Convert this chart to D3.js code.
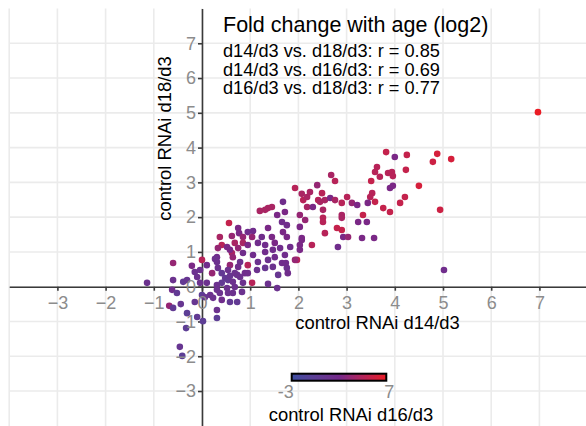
<!DOCTYPE html>
<html><head><meta http-equiv="Content-Type" content="text/html; charset=UTF-8">
<script src="https://d3js.org/d3.v7.min.js"></script>
<style>
  body { margin: 0; background: #fff; }
  text { font-family: "Liberation Sans", Arial, sans-serif; }
</style>
</head>
<body>
<script type="text/javascript">
"use strict";
// log2 fold change for each gene
// x = d14/d3, y = d18/d3, colour = d16/d3
const d14 = [
  0.56, 0.37, 0.62, 0.75, 0.77, 0.85, 0.85, 0.68, 0.41, 0.33, 0.52, 0.62, 0.64, 0.31, 0.27, 0.95,
  -0.60, -0.21, 0.00, 0.10, 0.31, 0.33, 0.21, -0.15, -0.04, 0.41, 0.48, 0.54, 0.41, 0.58, 0.68, 0.64,
  -1.14, -0.60, -0.39, -0.31, -0.04, 0.10, 0.31, 0.31, 0.52, 0.54, 0.64, -0.62, -0.52, 0.00, 0.17, 0.23,
  0.41, 0.58, 0.73, -0.15, -0.68, -0.60, -0.44, 0.31, -0.31, -0.10, 0.02, 0.31, -0.33, -0.46, -0.41,
  0.58, 0.79, 0.79, 0.89, 0.85, 0.68, 0.83, 0.37, 0.06, -0.10,
  1.45, 1.37, 1.31, 1.20, 1.68, 1.72, 1.06, 1.04, 1.24, 1.37, 1.45, 1.66, 1.68, 1.76, 1.51, 1.31,
  1.16, 0.95, 0.75, 0.58, 0.85, 1.06, 1.31, 1.47, 1.62, 1.83, 2.07, 2.28, 2.03, 1.72, 1.51, 1.37,
  1.16, 0.95, 0.75, 0.54, 0.73, 0.95, 1.14, 1.31, 1.47, 1.66, 1.76, 1.58, 1.97, 1.37, 1.56, 1.04,
  1.56, 1.76, 1.78, 1.74,
  1.93, 2.07, 2.10, 2.18, 2.24, 2.39, 2.49, 2.55, 2.66, 2.76, 2.68, 2.76, 2.03, 2.14, 2.03, 1.93,
  2.07, 2.03, 2.18, 2.30, 2.51, 2.51, 2.80, 2.55, 2.82, 3.82, 4.00, 4.25, 3.63, 3.59, 3.86, 3.94,
  3.96, 4.23, 3.69, 3.51, 3.90, 3.96, 4.21, 4.11, 3.53, 3.49, 3.59, 3.44, 3.11, 3.22, 3.01, 2.90,
  2.41, 2.45, 2.51, 2.90, 2.90, 3.34, 3.24, 3.42, 2.90, 2.93, 3.03, 3.32, 3.57, 3.76, 3.90,
  6.97, 4.88, 4.79, 5.17, 4.50, 4.94, 5.02
];
const d18 = [
  1.83, 1.43, 1.46, 1.69, 1.54, 1.43, 1.26, 1.26, 1.20, 1.11, 1.14, 0.97, 0.85, 0.85, 0.80, 1.57,
  0.68, 0.60, 0.77, 0.62, 0.71, 0.54, 0.39, 0.42, 0.48, 0.39, 0.25, 0.19, 0.11, 0.31, 0.39, 0.14,
  0.11, 0.19, 0.14, 0.19, 0.11, 0.11, 0.05, -0.09, -0.04, -0.18, -0.18, -0.09, -0.18, -0.24, -0.24, -0.32,
  -0.38, -0.44, -0.44, -0.44, -0.55, -0.61, -0.50, -0.67, -0.76, -0.87, -0.99, -0.90, -1.19, -1.73, -1.99,
  0.62, 0.71, 0.28, 0.39, 0.11, -0.01, -0.15, -0.18, -0.30, 0.28,
  2.29, 2.26, 2.21, 2.18, 2.44, 2.15, 1.60, 1.43, 1.43, 1.69, 1.43, 1.86, 1.57, 1.43, 1.26, 1.20,
  1.26, 1.20, 1.11, 1.06, 0.97, 0.91, 1.00, 1.06, 1.11, 1.14, 1.34, 1.20, 1.06, 0.91, 0.85, 0.77,
  0.71, 0.62, 0.57, 0.48, 0.34, 0.39, 0.48, 0.54, 0.57, 0.68, 0.54, 0.34, 0.77, 0.08, -0.04, 0.11,
  2.06, 1.77, 0.39, 0.68,
  2.84, 2.67, 2.49, 2.58, 2.72, 2.92, 2.69, 2.49, 2.55, 2.49, 3.21, 3.04, 2.06, 1.92, 1.72, 0.77,
  1.40, 1.20, 2.29, 2.29, 1.98, 2.21, 1.69, 1.54, 1.14, 3.87, 3.73, 3.79, 3.44, 3.30, 3.27, 3.30,
  3.18, 3.36, 3.16, 3.04, 2.84, 2.90, 2.58, 2.41, 2.69, 2.58, 2.44, 2.41, 2.41, 2.35, 2.58, 2.41,
  2.49, 2.44, 1.86, 2.06, 1.98, 2.06, 1.86, 1.86, 1.63, 1.43, 1.43, 1.40, 1.40, 2.26, 2.15,
  5.02, 3.82, 3.59, 3.67, 2.90, 2.21, 0.48
];
const d16 = [
  5.2, 4, 3.2, 2.2, 2.2, 3.2, 4, 4, 4.6, 3.2, 2.2, 4, 3.2, 1.5, 1, 1.5,
  3.2, 2.2, 4.6, 1.5, 1, 1, 3.2, 1, 1, 0, 0, 0, 0, 0.5, 1, 1,
  1, 1, 0, 0.5, 1, 1, 1, 1, 1, 1, 1, 1.5, 0, -0.5, 1, 1,
  1.5, 0, 0, 0.5, 3.2, 0, 0.5, 1, -0.5, 0, -0.5, -0.5, -0.5, 0.5, -0.5,
  3.2, 1, 1, 1.5, 1, 1, 1, 1, 0.5, 1,
  4, 4, 4, 4, 1.5, 2.2, 1.5, 3.2, 1.5, 2.2, 2.2, 1.5, 2.2, 2.2, 2.2, 1.5,
  1.5, 2.2, 3.2, 2.2, 1.5, 1.5, 1.5, 1.5, 1.5, 1.5, 2.2, 4.6, 2.2, 1.5, 1.5, 1,
  1, 4.6, 1.5, 1, 1, 1.5, 1, 0.5, 1, 1.5, 1, 0.5, 4.6, 1, 1, 4.6,
  2.2, 1.5, 1.5, 1.5,
  4.6, 4, 4.6, 4, 4, 3.2, 4.6, 4, 2.2, 4, 4, 4.6, 3.2, 3.2, 2.2, 3.2,
  2.2, 2.2, 4, 2.2, 4.6, 4, 5.2, 4.6, 1.5, 5.2, 2.2, 5.2, 4.6, 4.6, 4.6, 4.6,
  4.6, 5.2, 4.6, 5.2, 2.2, 2.2, 5.2, 5.2, 4.6, 4.6, 5.2, 2.2, 3.2, 2.2, 4.6, 4.6,
  4.6, 4, 4.6, 4, 4, 5.2, 2.2, 2.2, 5.2, 2.2, 3.2, 2.2, 2.2, 5.2, 5.2,
  7, 6, 5.6, 6, 6, 5.6, 1.5
];
const xTicks = [-3, -2, -1, 0, 1, 2, 3, 4, 5, 6, 7];
const yTicks = [-3, -2, -1, 0, 1, 2, 3, 4, 5, 6, 7];
const gridX = [-4, -3, -2, -1, 0, 1, 2, 3, 4, 5, 6, 7];
const gridY = [-3, -2, -1, 0, 1, 2, 3, 4, 5, 6, 7];
const legendTicks = [-3, 7];
const titleText = "Fold change with age (log2)";
const statLines = [
  "d14/d3 vs. d18/d3: r = 0.85",
  "d14/d3 vs. d16/d3: r = 0.69",
  "d16/d3 vs. d18/d3: r = 0.77"
];

let width = 586, height = 426;
let points = d14.map((v, i) => ({x: v, y: d18[i], c: d16[i]}));

let x = d3.scaleLinear().domain([-4, 8]).range([9.2, 587.6]);
let y = d3.scaleLinear().domain([-4, 8]).range([425.8, 8.5]);
let colour = d3.scaleLinear()
    .domain([-3, 2, 7])
    .range(["#3c4da0", "#74288a", "#ea1b24"])
    .interpolate(d3.interpolateLab);

let svg = d3.select("body").append("svg")
    .attr("width", width)
    .attr("height", height);

// panel grid
let grid = svg.append("g").attr("stroke", "#ebebeb").attr("stroke-width", 1.6);
grid.selectAll(".gx").data(gridX).enter().append("line")
    .attr("x1", d => x(d)).attr("x2", d => x(d))
    .attr("y1", y(8)).attr("y2", height);
grid.selectAll(".gy").data(gridY).enter().append("line")
    .attr("x1", x(-4)).attr("x2", width)
    .attr("y1", d => y(d)).attr("y2", d => y(d));

// axes through the origin: lines first, labels after the points
function xAxis() {
  return d3.axisBottom(x).tickValues(xTicks).tickSize(4).tickSizeOuter(0).tickPadding(5.5);
}
function yAxis() {
  return d3.axisLeft(y).tickValues(yTicks).tickSize(4).tickSizeOuter(0).tickPadding(2);
}
let xLines = svg.append("g").attr("transform", `translate(0,${y(0)})`).call(xAxis());
let yLines = svg.append("g").attr("transform", `translate(${x(0)},0)`).call(yAxis());
[xLines, yLines].forEach(g => {
  g.selectAll("text").remove();
  g.selectAll("path, line").attr("stroke", "#3a3a3a").attr("stroke-width", 1.6);
});

svg.append("g").selectAll("circle").data(points).enter().append("circle")
    .attr("cx", d => x(d.x))
    .attr("cy", d => y(d.y))
    .attr("r", 3.3)
    .attr("fill", d => colour(d.c));

let xLabels = svg.append("g").attr("transform", `translate(0,${y(0)})`).call(xAxis());
let yLabels = svg.append("g").attr("transform", `translate(${x(0)},0)`).call(yAxis());
[xLabels, yLabels].forEach(g => {
  g.selectAll("path, line").remove();
  g.selectAll("text")
      .attr("fill", "#8c8c8c")
      .style("font-size", "18px")
      .style("font-family", "'Liberation Sans', Arial, sans-serif");
});

// title and correlations
svg.append("text")
    .attr("x", 223).attr("y", 32)
    .style("font-size", "21.5px")
    .text(titleText);
svg.selectAll(".stat").data(statLines).enter().append("text")
    .attr("x", 223)
    .attr("y", (d, i) => 57 + i * 18.6)
    .style("font-size", "18.2px")
    .text(d => d);

// axis titles
svg.append("text")
    .attr("x", 377.5).attr("y", 329)
    .style("text-anchor", "middle")
    .style("font-size", "18.4px")
    .text("control RNAi d14/d3");
svg.append("text")
    .attr("transform", "translate(170.5,138.5) rotate(-90)")
    .style("text-anchor", "middle")
    .style("font-size", "18.4px")
    .text("control RNAi d18/d3");

// colour bar legend
let lx = d3.scaleLinear().domain([-3, 7]).range([291.7, 386.3]);
let grad = svg.append("defs").append("linearGradient").attr("id", "cbar");
d3.range(0, 1.0001, 0.1).forEach(t => {
  grad.append("stop")
      .attr("offset", t)
      .attr("stop-color", colour(-3 + t * 10));
});
svg.append("rect")
    .attr("x", lx(-3)).attr("y", 373.7)
    .attr("width", lx(7) - lx(-3)).attr("height", 7)
    .attr("fill", "url(#cbar)")
    .attr("stroke", "#000").attr("stroke-width", 2);
svg.selectAll(".ltick").data(legendTicks).enter().append("text")
    .attr("x", d => lx(d) + (d < 0 ? -6 : 3))
    .attr("y", 398)
    .style("text-anchor", "middle")
    .style("font-size", "18px")
    .attr("fill", "#8c8c8c")
    .text(d => d);
svg.append("text")
    .attr("x", 351).attr("y", 421)
    .style("text-anchor", "middle")
    .style("font-size", "18.4px")
    .text("control RNAi d16/d3");
</script>
</body>
</html>
